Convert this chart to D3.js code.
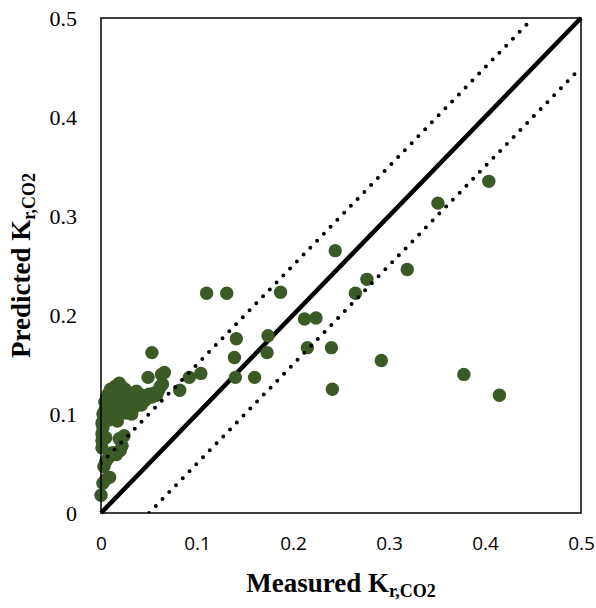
<!DOCTYPE html>
<html>
<head>
<meta charset="utf-8">
<script src="https://cdn.jsdelivr.net/npm/d3@7"></script>
<style>
  body { margin: 0; background: #fff; }
  svg { display: block; }
</style>
</head>
<body>
<div id="chart"></div>
<script>
// measured vs predicted Kr,CO2 -- dense cluster near the origin
var clusterX = [0.000, 0.002, 0.005, 0.009, 0.003, 0.005, 0.008, 0.012, 0.020, 0.016,
                0.022, 0.024, 0.019, 0.001, 0.001, 0.001, 0.002, 0.001, 0.003, 0.002,
                0.004, 0.006, 0.004, 0.006, 0.008, 0.010, 0.013, 0.015, 0.019, 0.022,
                0.025, 0.028, 0.014, 0.012, 0.016, 0.018, 0.020, 0.024, 0.027, 0.030,
                0.032, 0.031, 0.034, 0.036, 0.038, 0.040, 0.043, 0.046, 0.048, 0.050,
                0.052, 0.055, 0.058, 0.060, 0.062, 0.064, 0.063, 0.049, 0.066, 0.053,
                0.010, 0.008, 0.014, 0.017, 0.005, 0.035, 0.042, 0.026, 0.037, 0.054]
var clusterY = [0.018, 0.030, 0.034, 0.036, 0.047, 0.052, 0.056, 0.061, 0.063, 0.059,
                0.068, 0.078, 0.075, 0.066, 0.073, 0.080, 0.086, 0.091, 0.096, 0.100,
                0.104, 0.108, 0.112, 0.117, 0.121, 0.125, 0.123, 0.128, 0.131, 0.127,
                0.125, 0.122, 0.115, 0.108, 0.104, 0.110, 0.118, 0.115, 0.110, 0.104,
                0.100, 0.112, 0.118, 0.122, 0.113, 0.116, 0.119, 0.114, 0.118, 0.120,
                0.117, 0.121, 0.119, 0.124, 0.128, 0.130, 0.140, 0.137, 0.142, 0.162,
                0.100, 0.094, 0.097, 0.093, 0.076, 0.107, 0.109, 0.101, 0.123, 0.118]
// the scattered points further out
var spreadX = [0.404, 0.351, 0.319, 0.277, 0.244, 0.265, 0.187, 0.110, 0.131, 0.212,
               0.224, 0.215, 0.240, 0.292, 0.241, 0.378, 0.415, 0.174, 0.173, 0.141,
               0.139, 0.140, 0.160, 0.104, 0.092, 0.082]
var spreadY = [0.335, 0.313, 0.246, 0.236, 0.265, 0.222, 0.223, 0.222, 0.222, 0.196,
               0.197, 0.167, 0.167, 0.154, 0.125, 0.140, 0.119, 0.179, 0.162, 0.176,
               0.157, 0.137, 0.137, 0.141, 0.137, 0.124]

var measured = clusterX.concat(spreadX)
var predicted = clusterY.concat(spreadY)

var xTicks = [0, 0.1, 0.2, 0.3, 0.4, 0.5]
var yTicks = [0, 0.1, 0.2, 0.3, 0.4, 0.5]
var band = 0.05   // +/- band around the 1:1 line

var width = 596, height = 608
var margin = { top: 18, left: 101, bottom: 95, right: 15 }

var svg = d3.select("#chart").append("svg")
    .attr("width", width).attr("height", height)

var x = d3.scaleLinear().domain([0, 0.5]).range([margin.left, width - margin.right])
var y = d3.scaleLinear().domain([0, 0.5]).range([height - margin.bottom, margin.top])

var plot = svg.append("g")

svg.append("defs").append("clipPath").attr("id", "clip")
  .append("rect")
    .attr("x", x(0)).attr("y", y(0.5))
    .attr("width", x(0.5) - x(0)).attr("height", y(0) - y(0.5))

function fmt(d) { return d === 0 ? "0" : d3.format(".1f")(d) }

// axes (labels only, no tick marks)
var xAxis = svg.append("g")
    .attr("transform", "translate(0," + (y(0) + 20) + ")")
    .call(d3.axisBottom(x).tickValues(xTicks).tickSize(0).tickFormat(fmt))
xAxis.select(".domain").remove()
xAxis.selectAll("text")
    .attr("font-family", "'Open Sans', sans-serif")
    .attr("font-size", 19)
    .attr("fill", "#000")

var yAxis = svg.append("g")
    .attr("transform", "translate(" + (x(0) - 21) + ",0)")
    .call(d3.axisLeft(y).tickValues(yTicks).tickSize(0).tickFormat(fmt))
yAxis.select(".domain").remove()
yAxis.selectAll("text")
    .attr("font-family", "'Liberation Serif', 'Times New Roman', serif")
    .attr("font-size", 22)
    .attr("fill", "#000")

// 1:1 line
var line = d3.line().x(function(d) { return x(d[0]) }).y(function(d) { return y(d[1]) })
plot.append("path")
    .attr("d", line([[0, 0], [0.5, 0.5]]))
    .attr("stroke", "#000").attr("stroke-width", 4.5).attr("fill", "none")

// data points
plot.append("g").selectAll("circle")
    .data(measured.map(function(d, i) { return [d, predicted[i]] }))
    .enter().append("circle")
    .attr("cx", function(d) { return x(d[0]) })
    .attr("cy", function(d) { return y(d[1]) })
    .attr("r", 6.7)
    .attr("fill", "#3b5a25")

// dotted +/- band lines
var dotted = [[[0, band], [0.5 - band, 0.5]], [[band, 0], [0.5, 0.5 - band]]]
plot.append("g").attr("clip-path", "url(#clip)").selectAll("path")
    .data(dotted)
    .enter().append("path")
    .attr("d", function(d) { return line(d) })
    .attr("stroke", "#000").attr("stroke-width", 4)
    .attr("stroke-linecap", "round")
    .attr("stroke-dasharray", "0 9.7")
    .attr("fill", "none")

// plot frame
svg.append("rect")
    .attr("x", x(0)).attr("y", y(0.5))
    .attr("width", x(0.5) - x(0)).attr("height", y(0) - y(0.5))
    .attr("fill", "none").attr("stroke", "#000").attr("stroke-width", 1.5)

// axis titles
var xTitle = svg.append("text")
    .attr("x", (x(0) + x(0.5)) / 2).attr("y", 592)
    .attr("text-anchor", "middle")
    .attr("font-family", "'Liberation Serif', 'Times New Roman', serif")
    .attr("font-weight", "bold").attr("font-size", 27)
xTitle.append("tspan").text("Measured K")
xTitle.append("tspan").attr("font-size", 18).attr("dy", 5).text("r,CO2")

var yTitle = svg.append("text")
    .attr("transform", "translate(30," + (y(0) + y(0.5)) / 2 + ") rotate(-90)")
    .attr("text-anchor", "middle")
    .attr("font-family", "'Liberation Serif', 'Times New Roman', serif")
    .attr("font-weight", "bold").attr("font-size", 27)
yTitle.append("tspan").text("Predicted K")
yTitle.append("tspan").attr("font-size", 18).attr("dy", 5).text("r,CO2")
</script>
</body>
</html>
